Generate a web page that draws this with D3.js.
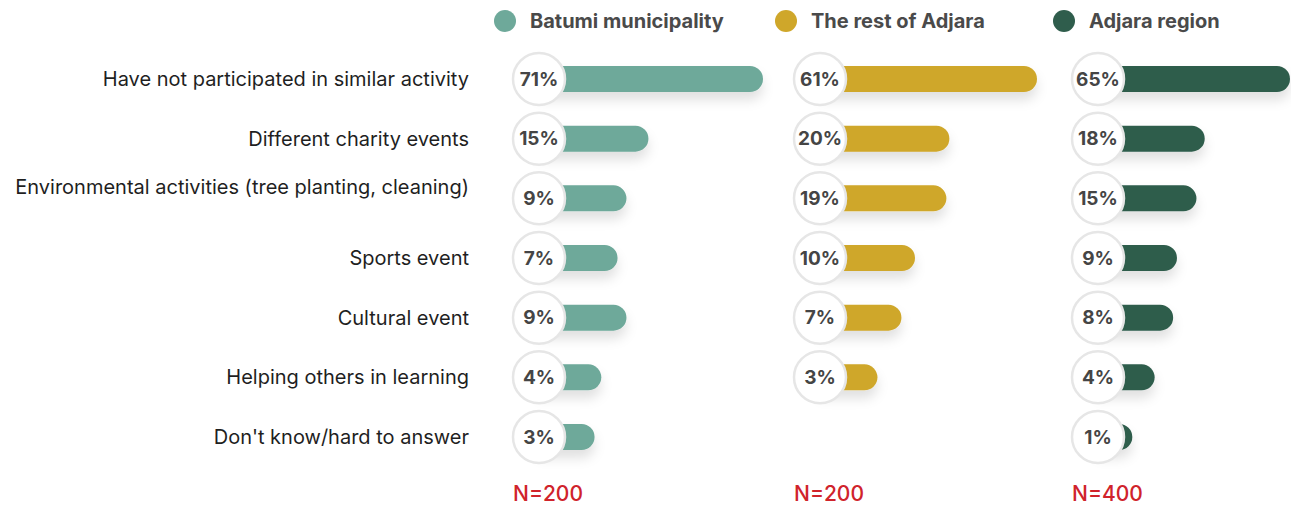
<!DOCTYPE html>
<head>
  <meta charset="utf-8">
  <style>
    body { margin: 0; background: #fff; }
    text { font-family: Inter, 'Liberation Sans', Arial, sans-serif; }
  </style>
  <script src="https://cdn.jsdelivr.net/npm/d3@7/dist/d3.min.js"></script>
</head>
<body>
  <script>
    const categories = [
      'Have not participated in similar activity',
      'Different charity events',
      'Environmental activities (tree planting, cleaning)',
      'Sports event',
      'Cultural event',
      'Helping others in learning',
      "Don't know/hard to answer"
    ];
    const seriesNames = ['Batumi municipality', 'The rest of Adjara', 'Adjara region'];
    const batumi = [71, 15, 9, 7, 9, 4, 3];
    const restOfAdjara = [61, 20, 19, 10, 7, 3, null];
    const adjaraRegion = [65, 18, 15, 9, 8, 4, 1];
    const sampleSizes = ['N=200', 'N=200', 'N=400'];

    const series = [batumi, restOfAdjara, adjaraRegion];
    const colors = ['#6ea99a', '#cfa72a', '#2f5d4c'];

    const w = 1291, h = 505;
    const circleX = [539, 820, 1098];   // circle centre per panel
    const barMax = [224, 217, 192];     // length of longest bar per panel
    const r = 27, barH = 26;

    const svg = d3.select('body').append('svg')
      .attr('width', w)
      .attr('height', h);

    const defs = svg.append('defs');
    const f = defs.append('filter').attr('id', 'shadow')
      .attr('x', '-20%').attr('y', '-50%').attr('width', '140%').attr('height', '260%');
    f.append('feDropShadow')
      .attr('dx', 0).attr('dy', 8).attr('stdDeviation', 6)
      .attr('flood-color', '#000').attr('flood-opacity', 0.12);

    const y = d3.scalePoint()
      .domain(categories)
      .range([79, 437]);

    // category labels
    svg.append('g').selectAll('text')
      .data(categories)
      .enter()
      .append('text')
      .attr('x', 469)
      .attr('y', (d, i) => y(d) + (i === 2 ? -11 : 0))
      .attr('dy', '0.35em')
      .attr('text-anchor', 'end')
      .attr('font-size', '20px')
      .attr('fill', '#1f1f1f')
      .text(d => d);

    series.forEach((vals, p) => {
      const x = d3.scaleSqrt()
        .domain([0, d3.max(vals)])
        .range([12, barMax[p]]);

      const g = svg.append('g');
      const rows = categories.map((c, i) => ({ c, v: vals[i] })).filter(d => d.v != null);

      // legend
      g.append('circle')
        .attr('cx', circleX[p] - 34)
        .attr('cy', 21)
        .attr('r', 11)
        .attr('fill', colors[p]);
      g.append('text')
        .attr('x', circleX[p] - 9)
        .attr('y', 21)
        .attr('dy', '0.35em')
        .attr('font-size', '20px')
        .attr('font-weight', 'bold')
        .attr('fill', '#4a4a4a')
        .text(seriesNames[p]);

      // bars
      g.selectAll('path.bar')
        .data(rows)
        .enter()
        .append('path')
        .attr('class', 'bar')
        .attr('filter', 'url(#shadow)')
        .attr('fill', colors[p])
        .attr('d', d => {
          const x0 = circleX[p];
          const x1 = x0 + x(d.v);
          const yt = y(d.c) - barH / 2;
          const rr = barH / 2;
          return `M${x0},${yt}H${x1 - rr}A${rr},${rr} 0 0 1 ${x1 - rr},${yt + barH}H${x0}Z`;
        });

      // value circles
      g.selectAll('circle.val')
        .data(rows)
        .enter()
        .append('circle')
        .attr('class', 'val')
        .attr('cx', circleX[p])
        .attr('cy', d => y(d.c))
        .attr('r', r - 1)
        .attr('fill', '#fff')
        .attr('stroke', '#e6e6e6')
        .attr('stroke-width', 2.5);

      g.selectAll('text.val')
        .data(rows)
        .enter()
        .append('text')
        .attr('class', 'val')
        .attr('x', circleX[p])
        .attr('y', d => y(d.c))
        .attr('dy', '0.35em')
        .attr('text-anchor', 'middle')
        .attr('font-size', '19px')
        .attr('font-weight', 'bold')
        .attr('fill', '#454545')
        .text(d => d.v + '%');

      // sample size
      g.append('text')
        .attr('x', circleX[p] - 26)
        .attr('y', 494)
        .attr('dy', '0.35em')
        .attr('font-size', '21px')
        .attr('font-weight', 500)
        .attr('fill', '#d0232b')
        .text(sampleSizes[p]);
    });
  </script>
</body>
